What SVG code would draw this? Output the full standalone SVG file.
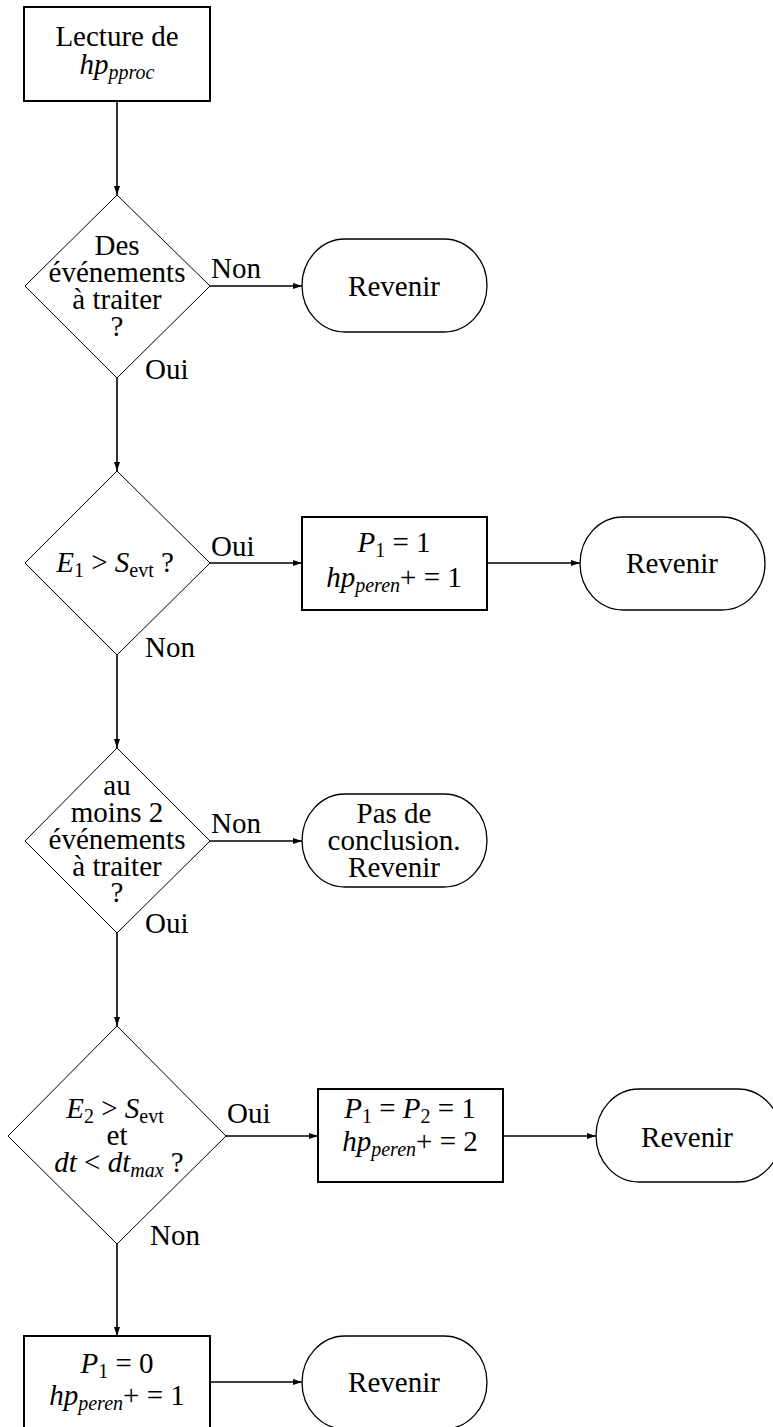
<svg xmlns="http://www.w3.org/2000/svg" width="773" height="1427" viewBox="0 0 773 1427">
<style>
.t{font-family:"Liberation Serif",serif;font-size:29px;text-anchor:middle;fill:#000}
.l{font-family:"Liberation Serif",serif;font-size:29px;text-anchor:start;fill:#000}
.i{font-style:italic}
.s{font-size:20px}
.box{fill:#fff;stroke:#000;stroke-width:2}
.dia{fill:none;stroke:#000;stroke-width:1}
.term{fill:none;stroke:#000;stroke-width:1.3}
.c{stroke:#000;stroke-width:1.6;fill:none;marker-end:url(#ah)}
</style>
<defs>
<marker id="ah" markerUnits="userSpaceOnUse" markerWidth="10" markerHeight="6" refX="9" refY="3" orient="auto">
<path d="M0,0 L9,3 L0,6 z" fill="#000"/>
</marker>
</defs>
<rect width="773" height="1427" fill="#fff"/>
<g id="connectors">
<line class="c" x1="117" y1="101" x2="117" y2="195"/>
<line class="c" x1="210" y1="286" x2="302" y2="286"/>
<line class="c" x1="117" y1="378" x2="117" y2="471"/>
<line class="c" x1="210" y1="563" x2="302" y2="563"/>
<line class="c" x1="487" y1="563" x2="580" y2="563"/>
<line class="c" x1="117" y1="655" x2="117" y2="748"/>
<line class="c" x1="210" y1="841" x2="302" y2="841"/>
<line class="c" x1="117" y1="933" x2="117" y2="1026"/>
<line class="c" x1="226" y1="1136" x2="318" y2="1136"/>
<line class="c" x1="503" y1="1136" x2="596" y2="1136"/>
<line class="c" x1="117" y1="1244" x2="117" y2="1336"/>
<line class="c" x1="210" y1="1382" x2="302" y2="1382"/>
<text class="l" x="211" y="278">Non</text>
<text class="l" x="145" y="379">Oui</text>
<text class="l" x="211" y="556">Oui</text>
<text class="l" x="145" y="657">Non</text>
<text class="l" x="211" y="833">Non</text>
<text class="l" x="145" y="933">Oui</text>
<text class="l" x="227" y="1123">Oui</text>
<text class="l" x="150" y="1245">Non</text>
</g>
<g id="start">
<rect class="box" x="24" y="7" width="186" height="94"/>
<text class="t" x="117" y="46">Lecture de</text>
<text class="t" x="117" y="74"><tspan class="i">hp</tspan><tspan class="i s" dy="5">pproc</tspan></text>
</g>
<g id="d1">
<polygon class="dia" points="117,195 210,286 117,378 25,286"/>
<text class="t" x="117" y="255">Des</text>
<text class="t" x="117" y="282">événements</text>
<text class="t" x="117" y="309">à traiter</text>
<text class="t" x="117" y="336">?</text>
</g>
<g id="r1">
<path class="term" d="M345,239 H444 A43,46.5 0 0 1 444,332 H345 A43,46.5 0 0 1 345,239 Z"/>
<text class="t" x="394" y="296">Revenir</text>
</g>
<g id="d2">
<polygon class="dia" points="117,471 210,563 117,655 25,563"/>
<text class="t" x="115" y="572"><tspan class="i">E</tspan><tspan class="s" dy="5">1</tspan><tspan dy="-5"> &gt; </tspan><tspan class="i">S</tspan><tspan class="s" dy="5">evt</tspan><tspan dy="-5"> ?</tspan></text>
</g>
<g id="p1">
<rect class="box" x="302" y="517" width="185" height="93"/>
<text class="t" x="394" y="552"><tspan class="i">P</tspan><tspan class="s" dy="5">1</tspan><tspan dy="-5"> = 1</tspan></text>
<text class="t" x="394" y="587"><tspan class="i">hp</tspan><tspan class="i s" dy="5">peren</tspan><tspan dy="-5">+ = 1</tspan></text>
</g>
<g id="r2">
<path class="term" d="M623,517 H722 A43,46.5 0 0 1 722,610 H623 A43,46.5 0 0 1 623,517 Z"/>
<text class="t" x="672" y="573">Revenir</text>
</g>
<g id="d3">
<polygon class="dia" points="117,748 210,841 117,933 25,841"/>
<text class="t" x="117" y="795">au</text>
<text class="t" x="117" y="822">moins 2</text>
<text class="t" x="117" y="849">événements</text>
<text class="t" x="117" y="876">à traiter</text>
<text class="t" x="117" y="902">?</text>
</g>
<g id="r3">
<path class="term" d="M345,794 H444 A43,46.5 0 0 1 444,887 H345 A43,46.5 0 0 1 345,794 Z"/>
<text class="t" x="394" y="823">Pas de</text>
<text class="t" x="394" y="850">conclusion.</text>
<text class="t" x="394" y="877">Revenir</text>
</g>
<g id="d4">
<polygon class="dia" points="117,1026 226,1136 117,1244 8,1136"/>
<text class="t" x="115" y="1118"><tspan class="i">E</tspan><tspan class="s" dy="5">2</tspan><tspan dy="-5"> &gt; </tspan><tspan class="i">S</tspan><tspan class="s" dy="5">evt</tspan></text>
<text class="t" x="117" y="1145">et</text>
<text class="t" x="119" y="1172"><tspan class="i">dt</tspan><tspan> &lt; </tspan><tspan class="i">dt</tspan><tspan class="i s" dy="5">max</tspan><tspan dy="-5"> ?</tspan></text>
</g>
<g id="p2">
<rect class="box" x="318" y="1089" width="185" height="93"/>
<text class="t" x="410" y="1118"><tspan class="i">P</tspan><tspan class="s" dy="5">1</tspan><tspan dy="-5"> = </tspan><tspan class="i">P</tspan><tspan class="s" dy="5">2</tspan><tspan dy="-5"> = 1</tspan></text>
<text class="t" x="410" y="1151"><tspan class="i">hp</tspan><tspan class="i s" dy="5">peren</tspan><tspan dy="-5">+ = 2</tspan></text>
</g>
<g id="r4">
<path class="term" d="M639,1089 H738 A43,46.5 0 0 1 738,1182 H639 A43,46.5 0 0 1 639,1089 Z"/>
<text class="t" x="687" y="1147">Revenir</text>
</g>
<g id="p3">
<rect class="box" x="24" y="1336" width="186" height="94"/>
<text class="t" x="117" y="1373"><tspan class="i">P</tspan><tspan class="s" dy="5">1</tspan><tspan dy="-5"> = 0</tspan></text>
<text class="t" x="117" y="1405"><tspan class="i">hp</tspan><tspan class="i s" dy="5">peren</tspan><tspan dy="-5">+ = 1</tspan></text>
</g>
<g id="r5">
<path class="term" d="M345,1336 H444 A43,46.5 0 0 1 444,1429 H345 A43,46.5 0 0 1 345,1336 Z"/>
<text class="t" x="394" y="1392">Revenir</text>
</g>
</svg>
